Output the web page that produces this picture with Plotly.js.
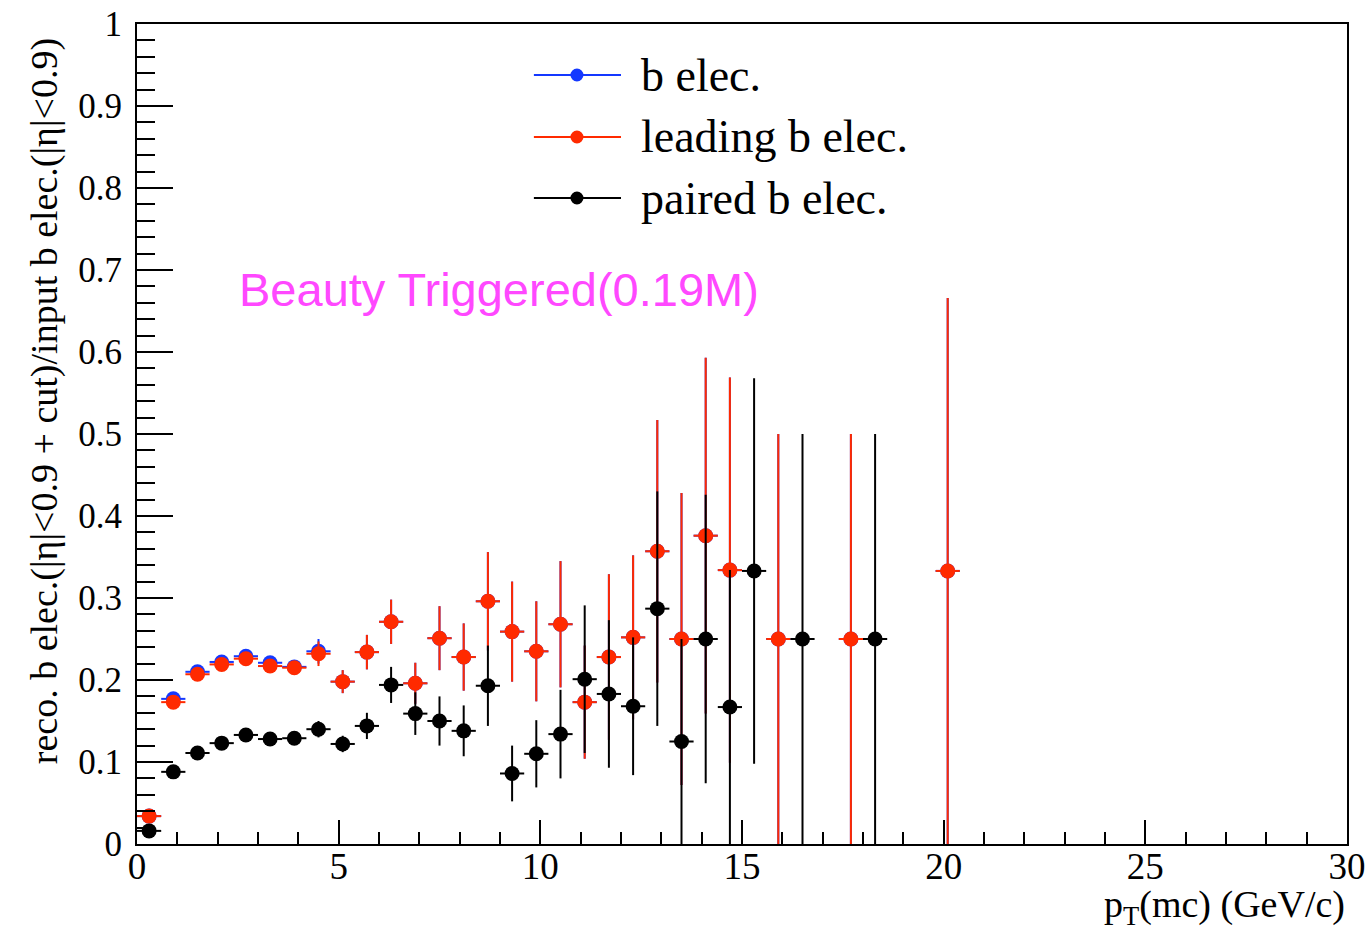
<!DOCTYPE html>
<html>
<head>
<meta charset="utf-8">
<script src="https://cdn.plot.ly/plotly-3.0.1.min.js"></script>
<style>html,body{margin:0;padding:0;background:#fff;}#chart{width:1370px;height:930px;}</style>
</head>
<body>
<div id="chart"></div>
<script>
// bin centres of p_T(mc) [GeV/c]
const ptBins = [0.3,0.9,1.5,2.1,2.7,3.3,3.9,4.5,5.1,5.7,6.3,6.9,7.5,8.1,8.7,9.3,9.9,10.5,11.1,11.7,12.3,12.9,13.5,14.1,14.7,15.3,15.9,16.5,17.1,17.7,18.3,18.9,19.5,20.1];
const binHalfWidth = 0.3;

// b elec.
const bElec = [0.034,0.177,0.210,0.222,0.229,0.221,0.216,0.235,0.198,0.234,0.271,0.196,0.251,0.228,0.296,0.259,0.235,0.268,0.173,0.228,0.252,0.357,0.25,0.376,0.334,null,0.25,null,null,0.25,null,null,null,0.333];
const bElecErr = [0.005,0.008,0.008,0.008,0.008,0.008,0.008,0.015,0.014,0.021,0.027,0.025,0.039,0.041,0.06,0.061,0.061,0.077,0.069,0.101,0.1,0.16,0.178,0.217,0.235,null,0.25,null,null,0.25,null,null,null,0.333];

// leading b elec.
const leadingElec = [0.034,0.173,0.207,0.219,0.226,0.217,0.215,0.232,0.198,0.234,0.271,0.196,0.251,0.228,0.296,0.259,0.235,0.268,0.173,0.228,0.252,0.357,0.25,0.376,0.334,null,0.25,null,null,0.25,null,null,null,0.333];
const leadingErr = [0.005,0.008,0.008,0.008,0.008,0.008,0.008,0.015,0.014,0.021,0.027,0.025,0.039,0.041,0.06,0.061,0.061,0.077,0.069,0.101,0.1,0.16,0.178,0.217,0.235,null,0.25,null,null,0.25,null,null,null,0.333];

// paired b elec.
const pairedElec = [0.016,0.088,0.111,0.123,0.133,0.128,0.129,0.140,0.122,0.144,0.194,0.159,0.150,0.138,0.193,0.086,0.110,0.134,0.201,0.183,0.168,0.287,0.125,0.25,0.167,0.333,null,0.25,null,null,0.25,null,null,null];
const pairedErr = [0.004,0.006,0.006,0.006,0.007,0.007,0.007,0.01,0.01,0.016,0.022,0.026,0.03,0.031,0.049,0.034,0.041,0.054,0.09,0.09,0.084,0.143,0.125,0.176,0.167,0.235,null,0.25,null,null,0.25,null,null,null];

const seriesNames = ['b elec.','leading b elec.','paired b elec.'];
const seriesColors = ['#1438ff','#ff2a00','#000000'];
const seriesY = [bElec, leadingElec, pairedElec];
const seriesErr = [bElecErr, leadingErr, pairedErr];

const traces = seriesY.map((ys, i) => ({
  type: 'scatter', mode: 'markers', name: seriesNames[i],
  x: ptBins, y: ys, showlegend: false,
  marker: {color: seriesColors[i], size: 15, line: {width: 0}},
  error_y: {type: 'data', array: seriesErr[i], symmetric: true, color: seriesColors[i], thickness: 2, width: 0},
  error_x: {type: 'constant', value: binHalfWidth, color: seriesColors[i], thickness: 2, width: 0}
}));

const serif = 'Liberation Serif, Times New Roman, serif';
const shapes = [];
const annotations = [];
const legendY = [0.9378, 0.8622, 0.7878];
seriesNames.forEach((n, i) => {
  shapes.push({type:'line', xref:'paper', yref:'paper', x0:0.328, x1:0.400, y0:legendY[i], y1:legendY[i], line:{color:seriesColors[i], width:2}});
  shapes.push({type:'circle', xref:'paper', yref:'paper', xsizemode:'pixel', ysizemode:'pixel', xanchor:0.3636, yanchor:legendY[i], x0:-6.5, x1:6.5, y0:-6.5, y1:6.5, fillcolor:seriesColors[i], line:{width:0}});
  annotations.push({xref:'paper', yref:'paper', x:0.415, y:legendY[i], xanchor:'left', yanchor:'middle', showarrow:false, text:n, font:{family:serif, size:46, color:'#000'}});
});
annotations.push({xref:'paper', yref:'paper', x:0.299, y:0.676, xanchor:'center', yanchor:'middle', showarrow:false, text:'Beauty Triggered(0.19M)', font:{family:'Liberation Sans, Arial, sans-serif', size:47, color:'#ff48ff'}});
annotations.push({xref:'paper', yref:'paper', x:1, y:0, xanchor:'right', yanchor:'middle', yshift:-63, showarrow:false, text:'p<sub>T</sub>(mc) (GeV/c)', font:{family:serif, size:38, color:'#000'}});
annotations.push({xref:'paper', yref:'paper', x:0, y:0.54, xanchor:'center', yanchor:'middle', xshift:-93, textangle:-90, showarrow:false, text:'reco. b elec.(|η|<0.9 + cut)/input b elec.(|η|<0.9)', font:{family:serif, size:38, color:'#000'}});

const layout = {
  width: 1370, height: 930,
  margin: {l:137, r:23, t:24, b:86},
  paper_bgcolor: '#fff', plot_bgcolor: '#fff',
  showlegend: false,
  xaxis: {range:[0,30], dtick:5, tick0:0, ticks:'inside', ticklen:24, tickwidth:2, tickcolor:'#000',
    showline:true, linewidth:2, linecolor:'#000', mirror:true, showgrid:false, zeroline:false,
    minor:{dtick:1, ticks:'inside', ticklen:12, tickwidth:2, tickcolor:'#000', showgrid:false},
    tickfont:{family:serif, size:37, color:'#000'}, ticklabelstandoff:-11},
  yaxis: {range:[0,1], dtick:0.1, tick0:0, ticks:'inside', ticklen:36, tickwidth:2, tickcolor:'#000',
    showline:true, linewidth:2, linecolor:'#000', mirror:true, showgrid:false, zeroline:false,
    minor:{dtick:0.02, ticks:'inside', ticklen:18, tickwidth:2, tickcolor:'#000', showgrid:false},
    tickfont:{family:serif, size:35, color:'#000'}, ticklabelstandoff:6},
  shapes: shapes,
  annotations: annotations
};

Plotly.newPlot('chart', traces, layout, {displayModeBar:false, staticPlot:true});
</script>
</body>
</html>
